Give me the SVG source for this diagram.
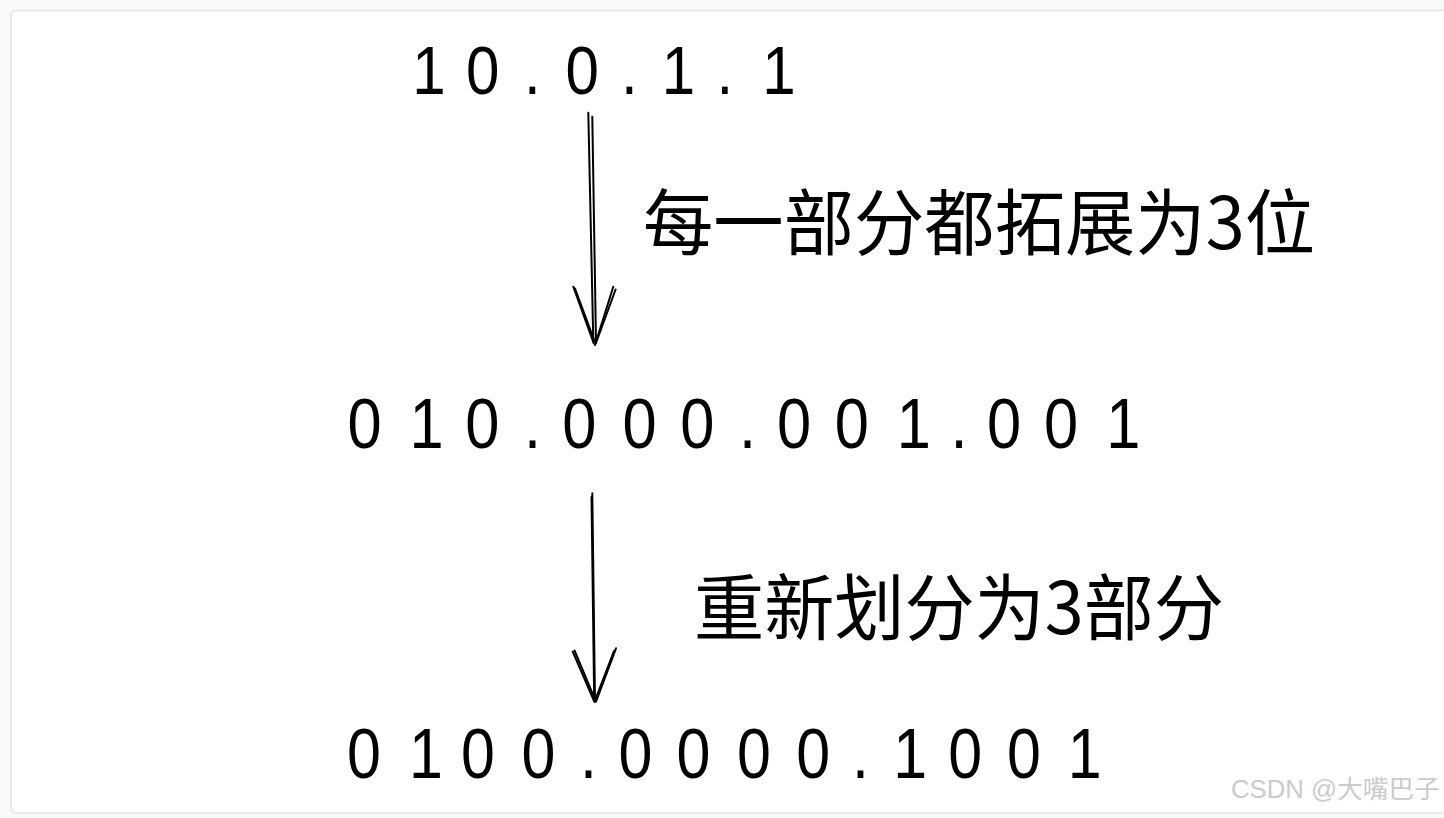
<svg xmlns="http://www.w3.org/2000/svg" width="1444" height="818" viewBox="0 0 1444 818">
  <style>
    .num { font-family: "Liberation Sans", Arial, sans-serif; fill: #000; }
    .cjk { font-family: "Noto Sans CJK SC", "Noto Sans", sans-serif; fill: #000; }
    .wm { font-family: "Liberation Sans", "Noto Sans CJK SC", sans-serif; font-size: 25px; fill: #cbcbcb; }
    .stroke { fill: none; stroke: #000; stroke-width: 2; stroke-linecap: round; stroke-linejoin: round; }
  </style>
  <rect x="0" y="0" width="1444" height="818" fill="#f8f9fb"/>
  <rect x="11" y="10.5" width="1460" height="802.5" rx="5" fill="#ffffff" stroke="#e6e6e6" stroke-width="1.6"/>

  <g id="node-ip">
    <text class="num" transform="scale(0.87 1)" y="94.5" font-size="69" x="473.9 535.7 602.3 650.1 713.8 760.7 823.6 876.2">10.0.1.1</text>
  </g>
  <g id="node-expanded">
    <text class="num" transform="scale(0.87 1)" y="447.8" font-size="70.5" x="399.5 470.8 534.9 602.4 646.3 715.6 781.8 849.3 893.2 959.4 1030.8 1092.5 1134.6 1200.1 1271.6">010.000.001.001</text>
  </g>
  <g id="node-regrouped">
    <text class="num" transform="scale(0.87 1)" y="778" font-size="70" x="399.0 470.1 530.0 599.5 666.7 711.0 777.7 847.2 915.1 979.3 1026.8 1089.8 1157.6 1227.4">0100.0000.1001</text>
  </g>

  <g id="connectors">
    <g id="edge-1">
      <path class="stroke" d="M588.3 112.7 L593.3 341.7"/>
      <path class="stroke" d="M592.3 116.7 L596 343" stroke-width="1.6"/>
      <path class="stroke" d="M573.3 286.7 L593.8 343.3"/>
      <path class="stroke" d="M575 288.5 L594.5 341" stroke-width="1.4"/>
      <path class="stroke" d="M613.3 286.7 L595 345"/>
      <path class="stroke" d="M615.6 289.5 L596 343" stroke-width="1.4"/>
      <text class="cjk" x="643" y="249" font-size="72" textLength="672" lengthAdjust="spacingAndGlyphs">每一部分都拓展为3位</text>
    </g>
    <g id="edge-2">
      <path class="stroke" d="M592.3 493.3 L595 701.7" stroke-width="2.4"/>
      <path class="stroke" d="M591.5 497 L594.2 700" stroke-width="1.4"/>
      <path class="stroke" d="M572.7 651.7 L594.3 701.7"/>
      <path class="stroke" d="M574.5 650.5 L595 699.5" stroke-width="1.4"/>
      <path class="stroke" d="M616 648.3 L596 701.7"/>
      <path class="stroke" d="M614 651 L595.5 699" stroke-width="1.4"/>
      <text class="cjk" x="694" y="634" font-size="72" textLength="530" lengthAdjust="spacingAndGlyphs">重新划分为3部分</text>
    </g>
  </g>

  <text class="wm" x="1231" y="798" textLength="209" lengthAdjust="spacingAndGlyphs">CSDN @大嘴巴子</text>
</svg>
